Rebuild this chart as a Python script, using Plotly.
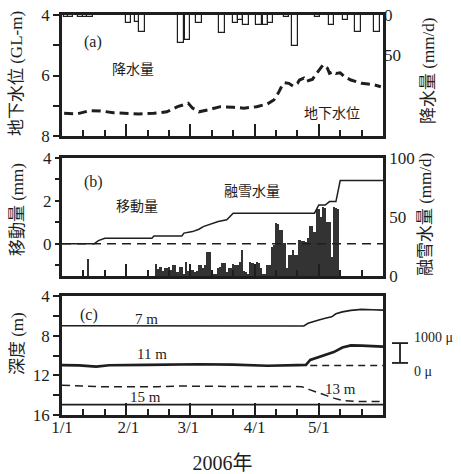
import plotly.graph_objects as go

# ---- data (x = days since 2006-01-01) ----
precip_days = [2, 4, 9, 11, 13, 31, 35.5, 37.5, 55.6, 58.6, 64, 74.8, 81, 83.4, 86, 92, 95, 97.4,
               105, 109, 119.4, 126, 132.5, 138.3, 147.2]
precip_mm = [2, 2, 2, 2, 2, 10, 9, 21, 35, 31, 10, 22, 10, 6, 12, 12, 12, 10,
             2, 39, 2, 12, 6, 21, 21]

gw_days = [1, 7, 13, 18, 24, 30, 36, 43, 49, 54, 59, 61, 64, 68, 74, 80, 85, 91, 96, 99, 101,
           103, 104, 106, 108, 110, 111, 113, 114, 116, 117, 119, 121, 122, 124, 125, 127, 128,
           130, 132, 135, 137, 140, 143, 146, 149]
gw_level = [7.25, 7.27, 7.16, 7.17, 7.23, 7.25, 7.27, 7.25, 7.2, 7.03, 6.92, 7.08, 7.2, 7.14,
            7.03, 7.05, 7.08, 7.03, 6.94, 6.81, 6.59, 6.31, 6.24, 6.26, 6.35, 6.26, 6.15, 6.09,
            6.2, 6.15, 6.13, 5.93, 5.76, 5.65, 5.76, 5.93, 5.87, 5.93, 5.91, 6.04, 6.15, 6.2,
            6.26, 6.28, 6.31, 6.37]

melt_days = [12, 44, 45, 46, 47, 48, 49, 50, 51, 52, 53, 54, 55, 56, 57, 58, 59, 60, 61, 62, 63,
             64, 65, 66, 67, 68, 69, 70, 71, 72, 73, 74, 75, 76, 77, 78, 79, 80, 81, 82, 83, 84,
             85, 86, 87, 88, 89, 90, 91, 92, 93, 94, 95, 96, 97, 98, 99, 100, 101, 102, 103, 104,
             105, 106, 107, 108, 109, 110, 111, 112, 113, 114, 115, 116, 117, 118, 119, 120, 121,
             122, 123, 124, 125, 126, 127, 128, 129]
melt_mm = [14, 10, 6, 8, 4, 6.5, 7, 8, 5, 9, 9, 3.7, 8, 8, 2, 12, 4, 4, 5, 3.7, 4,
           9, 9, 6.5, 9, 20.6, 20, 3.7, 2, 2, 6.5, 8, 10.7, 10.7, 3.7, 7, 7, 10, 9.3, 9, 12, 22,
           4, 3, 2, 11.6, 11, 6.5, 11.6, 11, 6.5, 2, 2, 9.3, 9, 25, 26, 44.6, 44, 39, 39, 27.7,
           6.5, 17.8, 18, 22, 17.8, 18, 30.5, 30, 29.4, 29, 32, 42.6, 42, 37.6, 57, 57, 50,
           58.8, 58, 46, 46, 16, 58.8, 58, 57]

disp_days = [0, 15, 17, 20, 42, 43, 56, 57, 61, 64, 66, 70, 73, 77, 80, 118, 120, 123, 125, 128, 130, 150]
disp_mm = [0, 0, 0.15, 0.26, 0.26, 0.37, 0.37, 0.5, 0.57, 0.68, 0.8, 0.93, 1.04, 1.12, 1.43, 1.43,
           1.81, 1.81, 1.97, 1.97, 2.95, 2.95]

d7_days = [0, 20, 40, 60, 80, 95, 105, 113, 115, 117, 120, 123, 126, 128, 131, 135, 140, 145, 150]
d7_vals = [7.0, 7.0, 6.98, 7.0, 7.05, 7.02, 7.02, 7.02, 6.75, 6.6, 6.42, 6.25, 6.1, 5.8, 5.6,
           5.45, 5.35, 5.38, 5.42]
d11_days = [0, 8, 16, 18, 22, 40, 64, 80, 96, 110, 114, 116, 120, 125, 127, 131, 135, 140, 150]
d11_vals = [10.97, 11.0, 11.12, 11.05, 10.98, 10.95, 10.88, 10.92, 11.03, 10.97, 10.95, 10.45,
            10.15, 9.85, 9.65, 9.2, 8.98, 9.0, 9.1]
d13_days = [0, 17, 45, 55, 80, 112, 116, 121, 124, 127, 131, 139, 150]
d13_vals = [13.0, 13.14, 13.14, 13.08, 13.12, 13.14, 13.47, 13.8, 14.07, 14.3, 14.54, 14.64, 14.64]
d15_days = [0, 150]
d15_vals = [14.95, 14.95]
ref11_days = [116, 150]
ref11_vals = [11.0, 11.0]
zero_days = [0, 150]
zero_vals = [0, 0]

major_ticks = [0, 30, 60, 90, 120, 150]
label_days = [0, 31, 59, 90, 120]
label_text = ["1/1", "2/1", "3/1", "4/1", "5/1"]

INK = "#1e1e1e"
SERIF = "Liberation Serif, Noto Sans CJK JP"
CJK = "Noto Sans CJK JP"

fig = go.Figure()

# panel (a)
fig.add_trace(go.Scatter(x=gw_days, y=gw_level, mode="lines", xaxis="x", yaxis="y",
                         line=dict(color=INK, width=3, dash="9px,5px")))
fig.add_trace(go.Bar(x=precip_days, y=precip_mm, xaxis="x", yaxis="y2", width=2.6,
                     marker=dict(color="white", line=dict(color=INK, width=1.2))))

# panel (b)
fig.add_trace(go.Bar(x=melt_days, y=melt_mm, xaxis="x2", yaxis="y3", width=1.0,
                     marker=dict(color="#333333", line=dict(width=0))))
fig.add_trace(go.Scatter(x=zero_days, y=zero_vals, mode="lines", xaxis="x2", yaxis="y4",
                         line=dict(color=INK, width=1.5, dash="9px,6px")))
fig.add_trace(go.Scatter(x=disp_days, y=disp_mm, mode="lines", xaxis="x2", yaxis="y4",
                         line=dict(color=INK, width=1.5)))

# panel (c)
fig.add_trace(go.Scatter(x=d7_days, y=d7_vals, mode="lines", xaxis="x3", yaxis="y5",
                         line=dict(color=INK, width=1.6)))
fig.add_trace(go.Scatter(x=d11_days, y=d11_vals, mode="lines", xaxis="x3", yaxis="y5",
                         line=dict(color=INK, width=2.6)))
fig.add_trace(go.Scatter(x=ref11_days, y=ref11_vals, mode="lines", xaxis="x3", yaxis="y5",
                         line=dict(color=INK, width=1.5, dash="7px,5px")))
fig.add_trace(go.Scatter(x=d13_days, y=d13_vals, mode="lines", xaxis="x3", yaxis="y5",
                         line=dict(color=INK, width=1.5, dash="8px,5px")))
fig.add_trace(go.Scatter(x=d15_days, y=d15_vals, mode="lines", xaxis="x3", yaxis="y5",
                         line=dict(color=INK, width=1.8)))
fig.add_trace(go.Scatter(x=label_days, y=[None] * len(label_days), mode="markers",
                         xaxis="x4", yaxis="y5", hoverinfo="skip"))

frame = dict(showline=True, linewidth=2.5, linecolor=INK, mirror=True, showgrid=False,
             zeroline=False, automargin=False)
xcommon = dict(range=[0, 150], tickvals=major_ticks, ticks="inside", ticklen=12, tickwidth=1.5,
               tickcolor=INK, showticklabels=False,
               minor=dict(tick0=0, dtick=10, ticks="inside", ticklen=6, tickwidth=1.5,
                          tickcolor=INK), **frame)
ytick = dict(ticks="outside", ticklen=6, tickwidth=1.5, tickcolor=INK)
bare = dict(showgrid=False, zeroline=False, automargin=False)

fig.update_layout(
    width=461, height=474, margin=dict(l=62, r=78, t=15, b=59),
    paper_bgcolor="white", plot_bgcolor="white", showlegend=False, bargap=0,
    font=dict(family=SERIF, size=17, color=INK),
    xaxis=dict(domain=[0, 1], anchor="y", **xcommon),
    yaxis=dict(domain=[0.6975, 1], range=[8, 4], tickvals=[4, 5, 6, 7, 8],
               ticktext=["4", "", "6", "", "8"], **ytick, **frame),
    yaxis2=dict(overlaying="y", side="right", anchor="x", range=[150, 0], tickvals=[0, 50],
                ticks="", **bare),
    xaxis2=dict(domain=[0, 1], anchor="y3", **xcommon),
    yaxis3=dict(domain=[0.3475, 0.6425], side="right", anchor="x2", range=[0, 100],
                tickvals=[0, 50, 100], ticks="", **frame),
    yaxis4=dict(overlaying="y3", side="left", anchor="x2", range=[-1.5, 4],
                tickvals=[-1, 0, 1, 2, 3, 4], ticktext=["", "0", "", "2", "", "4"],
                showline=False, **ytick, **bare),
    xaxis3=dict(domain=[0, 1], anchor="y5", **xcommon),
    xaxis4=dict(overlaying="x3", anchor="y5", side="bottom", range=[0, 150],
                tickvals=label_days, ticktext=label_text, ticks="", showline=False,
                title=dict(text="2006年", standoff=24), **bare),
    yaxis5=dict(domain=[0, 0.2975], anchor="x3", range=[16, 4],
                tickvals=[4, 6, 8, 10, 12, 14, 16], ticktext=["4", "", "8", "", "12", "", "16"],
                **ytick, **frame),
)

def note(text, x, y, xref, yref, size=15, family=SERIF, **kw):
    fig.add_annotation(text=text, x=x, y=y, xref=xref, yref=yref, showarrow=False,
                       font=dict(family=family, size=size, color=INK), **kw)

# axis titles (rotated)
for txt, xp, yp in [("地下水位 (GL-m)", -0.14, 0.8525), ("移動量 (mm)", -0.14, 0.5125),
                    ("深度 (m)", -0.14, 0.1775), ("降水量 (mm/d)", 1.14, 0.86),
                    ("融雪水量 (mm/d)", 1.131, 0.5)]:
    note(txt, xp, yp, "paper", "paper", size=17, textangle=-90,
         xanchor="center", yanchor="middle")

note("(a)", 14.5, 4.9, "x", "y", size=16)
note("降水量", 33, 5.75, "x", "y", size=14, family=CJK)
note("地下水位", 126, 7.2, "x", "y", size=14, family=CJK)
note("(b)", 14.5, 2.88, "x2", "y4", size=16)
note("融雪水量", 89, 2.5, "x2", "y4", size=14, family=CJK)
note("移動量", 35, 1.8, "x2", "y4", size=14, family=CJK)
note("(c)", 12.6, 5.9, "x3", "y5", size=16)
note("7 m", 39.7, 6.3, "x3", "y5")
note("11 m", 42, 9.85, "x3", "y5")
note("15 m", 38.8, 14.2, "x3", "y5")
note("13 m", 130, 13.4, "x3", "y5")
note("1000 μ", 1.09, 8.23, "paper", "y5", size=14, xanchor="left")
note("0 μ", 1.09, 11.63, "paper", "y5", size=14, xanchor="left")

# scale bar (1000 μ)
for x0, y0, x1, y1 in [(1.053, 8.75, 1.053, 10.75), (1.028, 8.75, 1.078, 8.75),
                       (1.028, 10.75, 1.078, 10.75)]:
    fig.add_shape(type="line", xref="paper", yref="y5", x0=x0, y0=y0, x1=x1, y1=y1,
                  line=dict(color=INK, width=1.8))

fig.write_html("out.html")
